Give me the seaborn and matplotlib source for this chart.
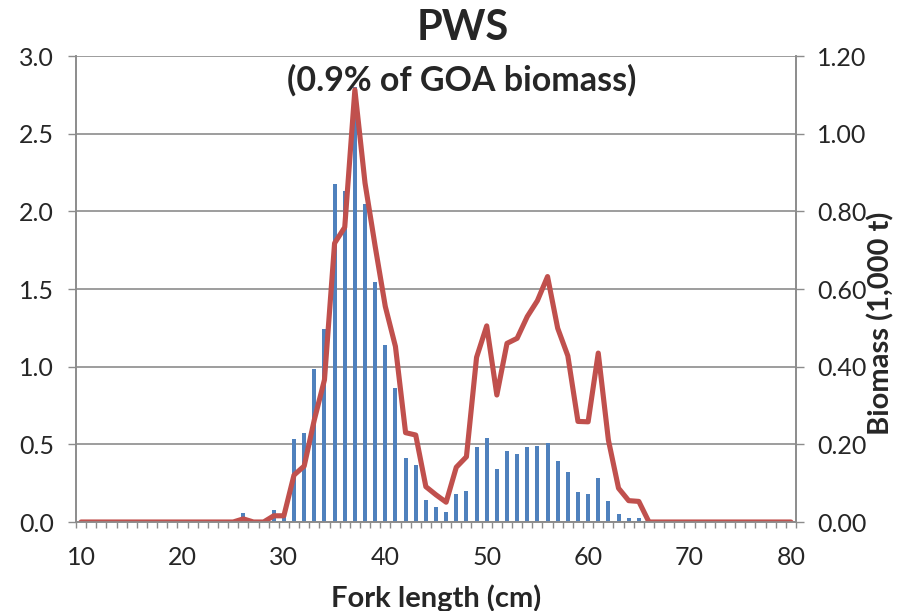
import numpy as np
import matplotlib
matplotlib.use('Agg')
import matplotlib.pyplot as plt
from matplotlib.ticker import FormatStrFormatter
import seaborn as sns

# data
fork_length = list(range(10, 81))
numbers = ([0] * 16 +
           [0.056, 0, 0, 0.077, 0.03, 0.534, 0.575, 0.985, 1.243, 2.174,
            2.13, 2.80, 2.05, 1.547, 1.14, 0.861, 0.41, 0.367, 0.142, 0.099,
            0.066, 0.178, 0.20, 0.485, 0.543, 0.339, 0.46, 0.44, 0.483, 0.491,
            0.507, 0.393, 0.324, 0.19, 0.178, 0.283, 0.137, 0.05, 0.028, 0.024] +
           [0] * 15)
biomass = ([0] * 16 +
           [0.008, 0, 0, 0.016, 0.016, 0.121, 0.144, 0.263, 0.366, 0.718,
            0.759, 1.113, 0.873, 0.71, 0.555, 0.452, 0.23, 0.224, 0.091, 0.07,
            0.051, 0.141, 0.168, 0.424, 0.505, 0.327, 0.46, 0.473, 0.529, 0.57,
            0.632, 0.499, 0.428, 0.259, 0.258, 0.435, 0.211, 0.087, 0.055, 0.053] +
           [0] * 15)

sns.set_style('white')
plt.rcParams['font.family'] = ['Lato', 'DejaVu Sans']

grey = '#8c8c8c'
fig = plt.figure(figsize=(8.98, 6.11), dpi=100)
ax = fig.add_axes([76 / 898, 1 - 522 / 611, 720 / 898, 466 / 611])
ax2 = ax.twinx()

# bars: numbers (left axis)
sns.barplot(x=fork_length, y=numbers, native_scale=True, width=0.4,
            color='#4F81BD', saturation=1, linewidth=0, errorbar=None, ax=ax)
# line: biomass (right axis)
sns.lineplot(x=fork_length, y=biomass, color='#C0504D', linewidth=3.7, ax=ax2)

ax.set_xlim(9.5, 80.5)
ax.set_ylim(0, 3.0)
ax2.set_ylim(0, 1.2)
ax.set_xlabel('')
ax.set_ylabel('')
ax2.set_ylabel('')

ax.set_xticks(range(10, 81, 10))
ax.set_xticks(np.arange(9.5, 81, 1), minor=True)
ax.set_yticks(np.arange(0, 3.01, 0.5))
ax2.set_yticks(np.arange(0, 1.21, 0.2))
ax.yaxis.set_major_formatter(FormatStrFormatter('%.1f'))
ax2.yaxis.set_major_formatter(FormatStrFormatter('%.2f'))

ax.set_axisbelow(True)
ax.yaxis.grid(True, color=grey, linewidth=1.2)
ax.xaxis.grid(False)

ax.tick_params(axis='x', which='major', length=0, labelsize=18, pad=17)
ax.tick_params(axis='x', which='minor', length=4, width=1, color=grey, direction='out', bottom=True)
ax.tick_params(axis='y', length=6, width=1, color=grey, direction='out', left=True, labelsize=18, pad=10)
ax2.tick_params(axis='y', length=6, width=1, color=grey, direction='out', right=True, labelsize=18, pad=9)

for a in (ax, ax2):
    for side in ('left', 'right', 'bottom'):
        a.spines[side].set_color(grey)
        a.spines[side].set_linewidth(1.2)
    a.spines['top'].set_visible(False)

fig.text(463 / 898, 1 - 28 / 611, 'PWS', ha='center', va='center',
         fontsize=30, fontweight='bold')
fig.text(462 / 898, 1 - 80 / 611, '(0.9% of GOA biomass)', ha='center', va='center',
         fontsize=24.5, fontweight='bold')
fig.text(436 / 898, 1 - 598 / 611, 'Fork length (cm)', ha='center', va='center',
         fontsize=21, fontweight='bold')
fig.text(881 / 898, 1 - 323 / 611, 'Biomass (1,000 t)', ha='center', va='center',
         rotation=90, fontsize=21, fontweight='bold')

fig.savefig('out.png', dpi=100)
